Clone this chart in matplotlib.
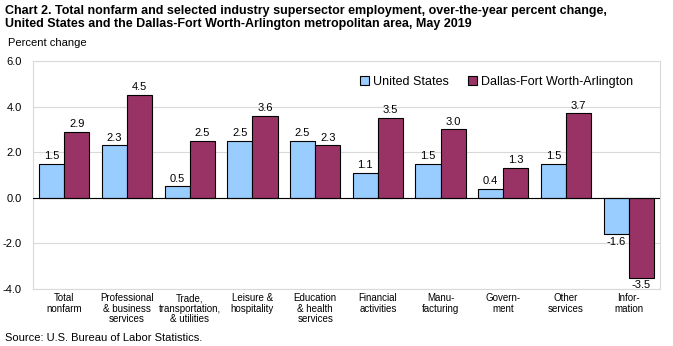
import matplotlib
matplotlib.use('Agg')
import matplotlib.pyplot as plt
import numpy as np

plt.rcParams['font.family'] = ['Liberation Sans', 'DejaVu Sans']

categories = ['Total\nnonfarm', 'Professional\n& business\nservices', 'Trade,\ntransportation,\n& utilities',
              'Leisure &\nhospitality', 'Education\n& health\nservices', 'Financial\nactivities',
              'Manu-\nfacturing', 'Govern-\nment', 'Other\nservices', 'Infor-\nmation']
us_values = [1.5, 2.3, 0.5, 2.5, 2.5, 1.1, 1.5, 0.4, 1.5, -1.6]
dfw_values = [2.9, 4.5, 2.5, 3.6, 2.3, 3.5, 3.0, 1.3, 3.7, -3.5]
yticks = [-4.0, -2.0, 0.0, 2.0, 4.0, 6.0]

fig = plt.figure(figsize=(6.73, 3.46), dpi=100)
ax = fig.add_axes([33 / 673, 1 - 289 / 346, 627 / 673, 228 / 346])

x = np.arange(len(categories))
w = 0.40
b1 = ax.bar(x - w / 2, us_values, w, color='#99CCFF', edgecolor='black', linewidth=0.8,
            label='United States', zorder=3)
b2 = ax.bar(x + w / 2, dfw_values, w, color='#993366', edgecolor='black', linewidth=0.8,
            label='Dallas-Fort Worth-Arlington', zorder=3)

for bars, vals in [(b1, us_values), (b2, dfw_values)]:
    for bar, v in zip(bars, vals):
        cx = bar.get_x() + bar.get_width() / 2
        if v >= 0:
            ax.text(cx, v + 0.12, f'{v:.1f}', ha='center', va='bottom', fontsize=8)
        else:
            ax.text(cx, v - 0.12, f'{v:.1f}', ha='center', va='top', fontsize=8)

ax.set_xlim(-0.5, len(categories) - 0.5)
ax.set_ylim(-4, 6)
ax.set_yticks(yticks)
ax.set_yticklabels([f'{t:.1f}' for t in yticks], fontsize=8)
ax.yaxis.grid(True, color='#D9D9D9', linewidth=0.8, zorder=0)
ax.tick_params(axis='y', length=0, pad=8)
ax.set_xticks(x)
ax.set_xticklabels(categories, fontsize=7, linespacing=1.05)
ax.tick_params(axis='x', length=0, pad=3)
ax.axhline(0, color='black', linewidth=0.8, zorder=4)
for s in ax.spines.values():
    s.set_color('#D9D9D9')
    s.set_linewidth(0.8)

ax.legend(loc='upper right', bbox_to_anchor=(0.975, 0.985), ncol=2, frameon=False, fontsize=9,
          handlelength=0.7, handleheight=0.7, handletextpad=0.3, columnspacing=1.6)

fig.text(0.008, 0.985, 'Chart 2. Total nonfarm and selected industry supersector employment, over-the-year percent change,\n'
         'United States and the Dallas-Fort Worth-Arlington metropolitan area, May 2019',
         fontsize=9, fontweight='bold', va='top', ha='left', linespacing=1.1)
fig.text(0.012, 0.875, 'Percent change', fontsize=8, va='center', ha='left')
fig.text(0.008, 0.01, 'Source: U.S. Bureau of Labor Statistics.', fontsize=8, va='bottom', ha='left')

fig.savefig('out.png', dpi=100)
